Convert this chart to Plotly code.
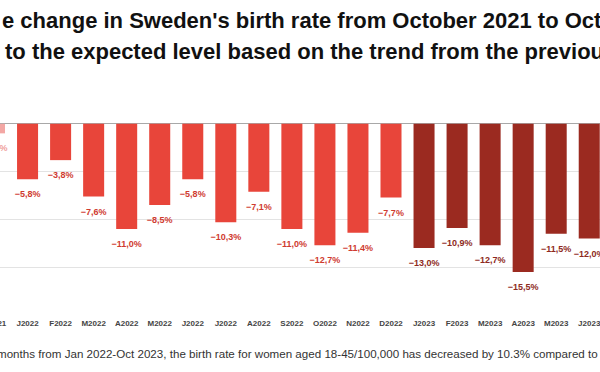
import plotly.graph_objects as go

# ---- data ----
months = ["2021-12", "2022-01", "2022-02", "2022-03", "2022-04", "2022-05", "2022-06",
          "2022-07", "2022-08", "2022-09", "2022-10", "2022-11", "2022-12",
          "2023-01", "2023-02", "2023-03", "2023-04", "2023-05", "2023-06"]
tick_labels = ["D2021", "J2022", "F2022", "M2022", "A2022", "M2022", "J2022",
               "J2022", "A2022", "S2022", "O2022", "N2022", "D2022",
               "J2023", "F2023", "M2023", "A2023", "M2023", "J2023"]
change_pct = [-1.0, -5.8, -3.8, -7.6, -11.0, -8.5, -5.8,
              -10.3, -7.1, -11.0, -12.7, -11.4, -7.7,
              -13.0, -10.9, -12.7, -15.5, -11.5, -12.0]
year_group = ["2021"] + ["2022"] * 12 + ["2023"] * 6

title_line1 = "e change in Sweden's birth rate from October 2021 to Oct"
title_line2 = "to the expected level based on the trend from the previou"
footnote = ("months from Jan 2022-Oct 2023, the birth rate for women aged "
            "18-45/100,000 has decreased by 10.3% compared to")

# ---- styles / layout geometry ----
bar_colors = {"2021": "#f3a7a4", "2022": "#e8453a", "2023": "#9b2a20"}
label_colors = {"2021": "#efa09c", "2022": "#cf3b30", "2023": "#8e2a21"}
FONT = "Liberation Sans, Arial, sans-serif"

STEP = 33.04          # px per category
W = 622               # figure width (wider than the 600px window; left part hidden)
SHIFT = 21.76         # px hidden on the left
H = 372
T, B = 76, 57
X0 = -0.5
X1 = X0 + W / STEP

labels = [("\u2212" if v < 0 else "") + f"{abs(v):.1f}".replace(".", ",") + "%"
          for v in change_pct]

fig = go.Figure()
fig.add_trace(go.Bar(
    x=months, y=change_pct,
    marker=dict(color=[bar_colors[g] for g in year_group], line=dict(width=0)),
    hoverinfo="skip",
))
fig.add_trace(go.Scatter(
    x=months, y=change_pct, mode="markers+text",
    text=labels, textposition="bottom center",
    marker=dict(size=16.6, color="rgba(0,0,0,0)"),
    textfont=dict(family=FONT, size=9, color=[label_colors[g] for g in year_group],
                  weight="bold"),
    cliponaxis=False, hoverinfo="skip",
))


def px(wx):
    return (wx + SHIFT) / W


def py(pix):
    return (H - B - pix) / (H - T - B)


fig.add_annotation(x=px(0), y=py(20), xref="paper", yref="paper", xanchor="left",
                   yanchor="middle", text=title_line1, showarrow=False,
                   font=dict(family=FONT, size=22, color="#111111", weight="bold"))
fig.add_annotation(x=px(3.3), y=py(51), xref="paper", yref="paper", xanchor="left",
                   yanchor="middle", text=title_line2, showarrow=False,
                   font=dict(family=FONT, size=22, color="#111111", weight="bold"))
fig.add_annotation(x=px(-5), y=py(353), xref="paper", yref="paper", xanchor="left",
                   yanchor="middle", text=footnote, showarrow=False,
                   font=dict(family=FONT, size=11.6, color="#333333"))

fig.update_layout(
    width=W, height=H,
    margin=dict(l=0, r=0, t=T, b=B),
    paper_bgcolor="white", plot_bgcolor="white",
    bargap=0.364,
    showlegend=False,
    xaxis=dict(type="category", range=[X0, X1],
               tickvals=months, ticktext=tick_labels,
               showgrid=False, zeroline=False, showline=False, ticks="",
               ticklabelstandoff=2,
               tickfont=dict(family=FONT, size=8, color="#444444", weight="bold")),
    yaxis=dict(range=[-20, 5], dtick=5, showticklabels=False,
               gridcolor="#e3e3e3", gridwidth=1,
               zeroline=True, zerolinecolor="#a8a8a8", zerolinewidth=1,
               showline=False, ticks=""),
)

fig.write_html(
    "out.html",
    config={"displayModeBar": False},
    post_script=("document.body.style.margin='0px';"
                 f"document.body.style.marginLeft='-{SHIFT}px';"
                 "document.body.style.overflow='hidden';"),
)
